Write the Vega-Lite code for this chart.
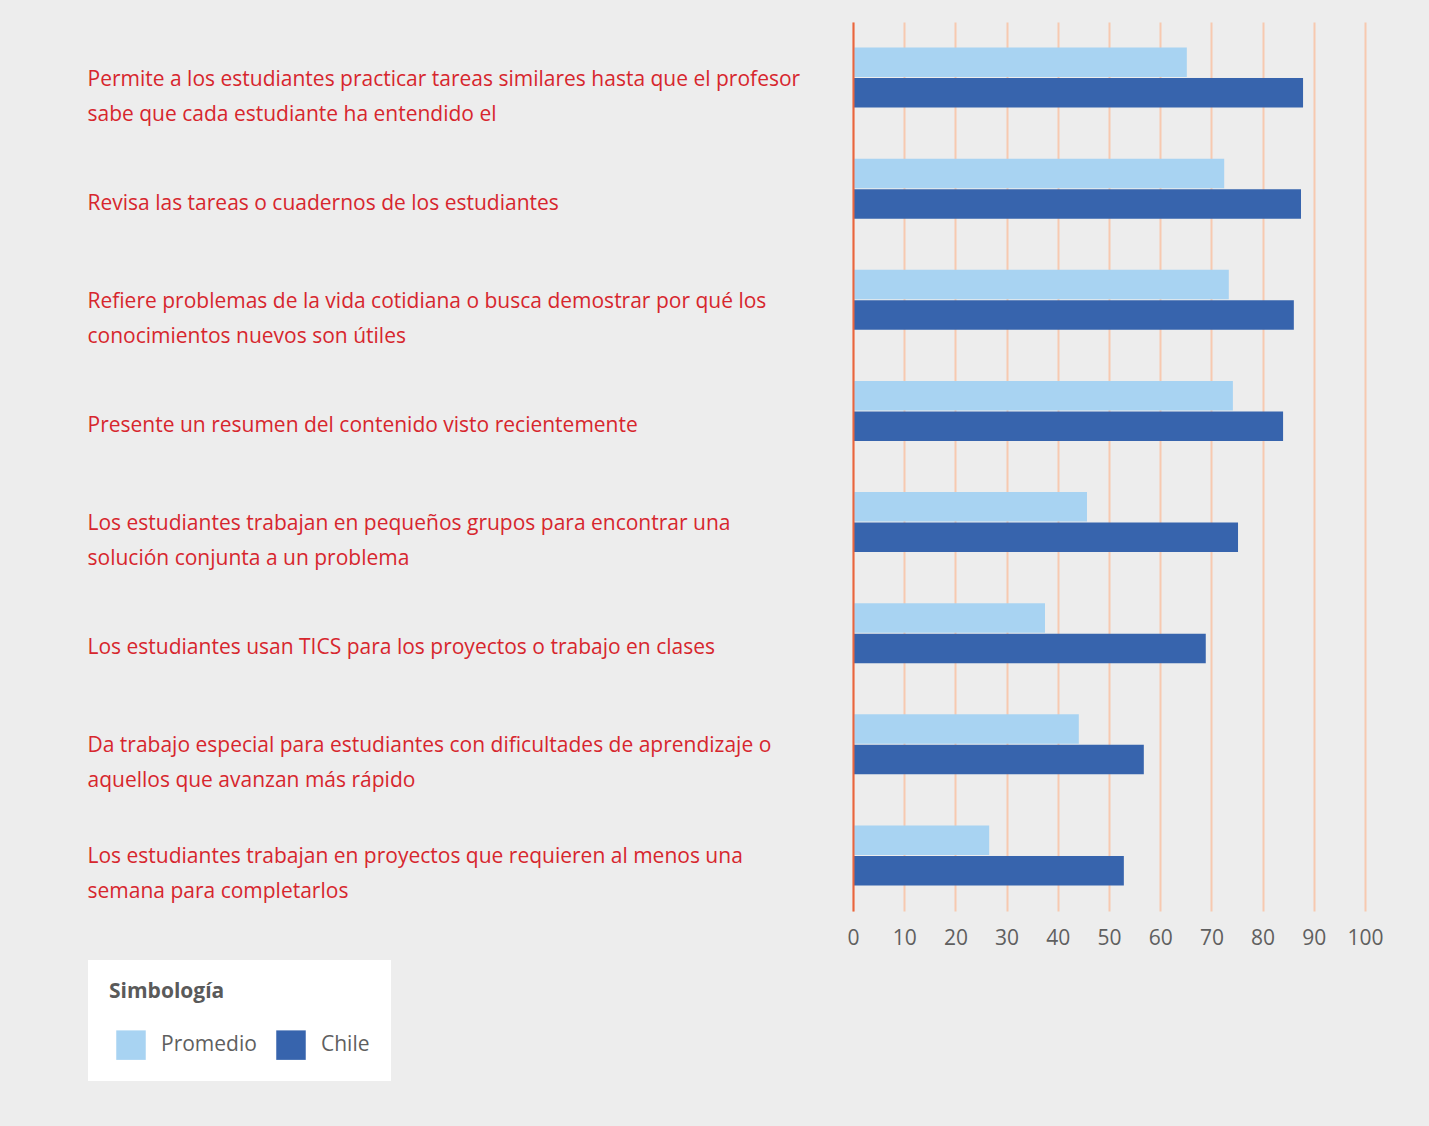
{
  "$schema": "https://vega.github.io/schema/vega-lite/v6.json",
  "autosize": {"type": "none"},
  "padding": {"left": 853, "top": 22, "right": 64, "bottom": 215},
  "width": 512,
  "height": 889,
  "background": "#ededed",
  "config": {
    "view": {"stroke": null},
    "font": "Open Sans"
  },
  "data": {
    "values": [
      {"item": "Permite a los estudiantes practicar tareas similares hasta que el profesor|sabe que cada estudiante ha entendido el", "serie": "Promedio", "valor": 65.2},
      {"item": "Permite a los estudiantes practicar tareas similares hasta que el profesor|sabe que cada estudiante ha entendido el", "serie": "Chile", "valor": 87.9},
      {"item": "Revisa las tareas o cuadernos de los estudiantes", "serie": "Promedio", "valor": 72.5},
      {"item": "Revisa las tareas o cuadernos de los estudiantes", "serie": "Chile", "valor": 87.5},
      {"item": "Refiere problemas de la vida cotidiana o busca demostrar por qué los|conocimientos nuevos son útiles", "serie": "Promedio", "valor": 73.4},
      {"item": "Refiere problemas de la vida cotidiana o busca demostrar por qué los|conocimientos nuevos son útiles", "serie": "Chile", "valor": 86.1},
      {"item": "Presente un resumen del contenido visto recientemente", "serie": "Promedio", "valor": 74.2},
      {"item": "Presente un resumen del contenido visto recientemente", "serie": "Chile", "valor": 84.0},
      {"item": "Los estudiantes trabajan en pequeños grupos para encontrar una|solución conjunta a un problema", "serie": "Promedio", "valor": 45.7},
      {"item": "Los estudiantes trabajan en pequeños grupos para encontrar una|solución conjunta a un problema", "serie": "Chile", "valor": 75.2},
      {"item": "Los estudiantes usan TICS para los proyectos o trabajo en clases", "serie": "Promedio", "valor": 37.5},
      {"item": "Los estudiantes usan TICS para los proyectos o trabajo en clases", "serie": "Chile", "valor": 68.9},
      {"item": "Da trabajo especial para estudiantes con dificultades de aprendizaje o|aquellos que avanzan más rápido", "serie": "Promedio", "valor": 44.1},
      {"item": "Da trabajo especial para estudiantes con dificultades de aprendizaje o|aquellos que avanzan más rápido", "serie": "Chile", "valor": 56.8},
      {"item": "Los estudiantes trabajan en proyectos que requieren al menos una|semana para completarlos", "serie": "Promedio", "valor": 26.6},
      {"item": "Los estudiantes trabajan en proyectos que requieren al menos una|semana para completarlos", "serie": "Chile", "valor": 52.9}
    ]
  },
  "mark": {"type": "bar"},
  "encoding": {
    "y": {
      "field": "item",
      "type": "nominal",
      "sort": null,
      "scale": {"paddingInner": 0.46, "paddingOuter": 0.23},
      "axis": {
        "title": null,
        "labelExpr": "split(datum.label, '|')",
        "labelAlign": "left",
        "labelBaseline": "middle",
        "labelPadding": 766,
        "labelOffset": {"condition": {"test": "indexof(datum.value, '|') >= 0", "value": 2}, "value": 15},
        "labelLimit": 900,
        "labelFontSize": 21,
        "labelLineHeight": 35,
        "labelColor": "#d7262d",
        "ticks": false,
        "domain": true,
        "domainColor": "#e8653e",
        "domainWidth": 2,
        "grid": false,
        "zindex": 1
      }
    },
    "yOffset": {
      "field": "serie",
      "type": "nominal",
      "sort": ["Promedio", "Chile"],
      "scale": {"paddingInner": 0.03}
    },
    "x": {
      "field": "valor",
      "type": "quantitative",
      "scale": {"domain": [0, 100], "nice": false},
      "axis": {
        "title": null,
        "values": [0, 10, 20, 30, 40, 50, 60, 70, 80, 90, 100],
        "domain": false,
        "ticks": false,
        "grid": true,
        "gridColor": "#f7c9b0",
        "gridWidth": 2,
        "labelFontSize": 21,
        "labelColor": "#5f5f5f",
        "labelPadding": 16,
        "labelFlush": false
      }
    },
    "color": {
      "field": "serie",
      "type": "nominal",
      "scale": {"domain": ["Promedio", "Chile"], "range": ["#a8d3f2", "#3764ad"]},
      "legend": {
        "title": "Simbología",
        "orient": "none",
        "legendX": -765,
        "legendY": 938,
        "direction": "horizontal",
        "fillColor": "white",
        "padding": 21,
        "symbolOffset": 7,
        "symbolType": "square",
        "symbolSize": 870,
        "symbolStrokeWidth": 0,
        "symbolOpacity": 1,
        "labelFontSize": 21,
        "labelColor": "#5f5f5f",
        "labelOffset": 15,
        "columnPadding": 12,
        "labelExpr": "datum.label == 'Chile' ? '\u00a0Chile\u00a0\u00a0\u00a0\u00a0\u00a0\u00a0' : datum.label",
        "titleFontSize": 21,
        "titleFontWeight": "bold",
        "titleColor": "#5a5a5a",
        "titlePadding": 28
      }
    }
  }
}
